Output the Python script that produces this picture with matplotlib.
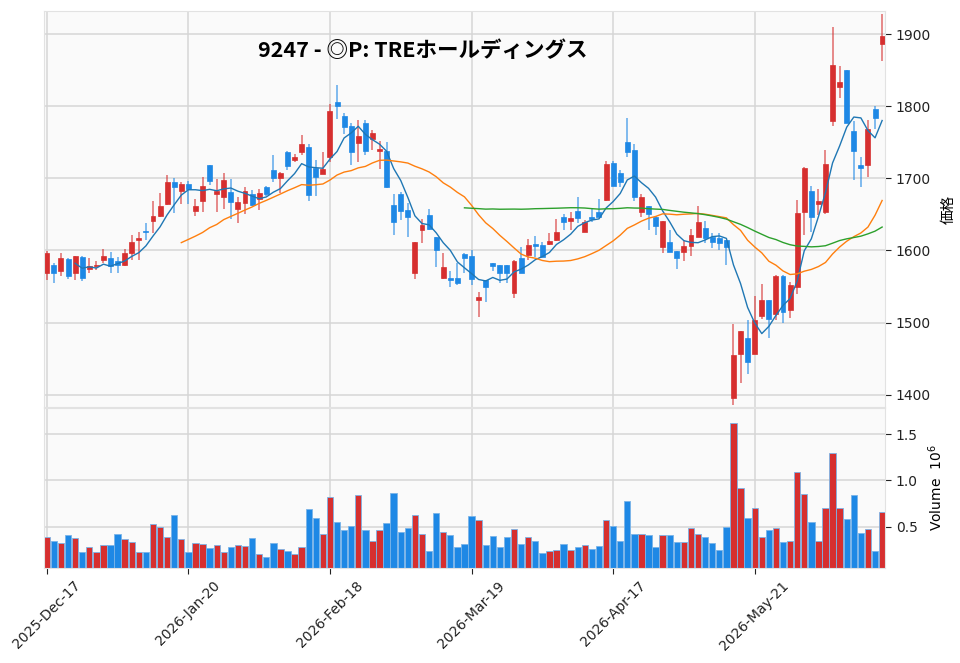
import numpy as np
import pandas as pd
import matplotlib
matplotlib.use('Agg')
import matplotlib.pyplot as plt
from matplotlib.ticker import MultipleLocator

plt.rcParams['font.family'] = ['DejaVu Sans', 'Noto Sans CJK JP']

title = '9247 - ◎P: TREホールディングス'

# 東証の休場日
holidays = ['2025-12-31', '2026-01-01', '2026-01-02', '2026-01-12', '2026-02-11',
            '2026-02-23', '2026-03-20', '2026-04-29', '2026-05-04', '2026-05-05',
            '2026-05-06']
dates = pd.bdate_range('2025-12-17', '2026-06-16', freq='C', holidays=holidays)

opens = [1569, 1580, 1571, 1588, 1569, 1591, 1574, 1578, 1587, 1590,
         1586, 1580, 1597, 1615, 1627, 1641, 1648, 1664, 1695, 1683,
         1692, 1655, 1669, 1718, 1678, 1674, 1681, 1657, 1666, 1678,
         1672, 1688, 1711, 1700, 1737, 1725, 1737, 1743, 1715, 1706,
         1730, 1806, 1786, 1773, 1749, 1777, 1754, 1738, 1738, 1663,
         1678, 1656, 1569, 1628, 1649, 1619, 1562, 1561, 1562, 1595,
         1592, 1531, 1559, 1582, 1580, 1580, 1541, 1589, 1594, 1608,
         1608, 1609, 1615, 1646, 1641, 1655, 1626, 1646, 1654, 1670,
         1721, 1707, 1750, 1740, 1654, 1661, 1646, 1605, 1612, 1599,
         1598, 1606, 1619, 1631, 1619, 1617, 1615, 1395, 1457, 1478,
         1457, 1509, 1532, 1512, 1564, 1518, 1549, 1653, 1682, 1665,
         1653, 1780, 1826, 1850, 1766, 1719, 1719, 1796, 1886]
highs = [1599, 1583, 1596, 1589, 1593, 1593, 1589, 1586, 1602, 1598,
         1591, 1602, 1622, 1626, 1638, 1668, 1680, 1705, 1700, 1695,
         1696, 1672, 1702, 1718, 1699, 1707, 1699, 1674, 1688, 1684,
         1685, 1690, 1732, 1709, 1738, 1734, 1760, 1747, 1726, 1737,
         1803, 1829, 1790, 1777, 1781, 1781, 1767, 1752, 1751, 1679,
         1681, 1666, 1612, 1643, 1657, 1619, 1596, 1572, 1582, 1597,
         1600, 1543, 1559, 1583, 1580, 1580, 1587, 1605, 1616, 1620,
         1612, 1624, 1643, 1651, 1654, 1674, 1642, 1657, 1671, 1724,
         1724, 1712, 1783, 1748, 1678, 1661, 1648, 1641, 1628, 1599,
         1614, 1630, 1661, 1641, 1624, 1624, 1615, 1498, 1488, 1504,
         1537, 1554, 1532, 1566, 1566, 1557, 1670, 1716, 1690, 1685,
         1740, 1910, 1856, 1850, 1779, 1730, 1781, 1800, 1928]
lows = [1559, 1555, 1565, 1560, 1559, 1558, 1569, 1573, 1582, 1569,
        1569, 1579, 1587, 1587, 1615, 1624, 1647, 1663, 1652, 1665,
        1665, 1648, 1654, 1691, 1654, 1657, 1644, 1638, 1651, 1662,
        1656, 1676, 1695, 1680, 1711, 1723, 1732, 1669, 1675, 1706,
        1722, 1782, 1762, 1719, 1723, 1733, 1739, 1713, 1687, 1622,
        1642, 1619, 1560, 1610, 1629, 1577, 1561, 1550, 1552, 1569,
        1552, 1508, 1528, 1572, 1555, 1555, 1534, 1569, 1587, 1591,
        1591, 1608, 1613, 1629, 1629, 1638, 1626, 1640, 1647, 1669,
        1689, 1688, 1730, 1668, 1646, 1628, 1622, 1597, 1598, 1575,
        1586, 1592, 1619, 1610, 1603, 1600, 1580, 1386, 1416, 1429,
        1457, 1505, 1478, 1503, 1499, 1506, 1540, 1622, 1625, 1649,
        1651, 1773, 1812, 1777, 1698, 1688, 1702, 1769, 1863]
closes = [1596, 1569, 1589, 1565, 1592, 1562, 1579, 1580, 1592, 1578,
          1580, 1597, 1612, 1618, 1625, 1648, 1661, 1695, 1688, 1692,
          1685, 1661, 1689, 1697, 1682, 1698, 1667, 1667, 1682, 1663,
          1680, 1679, 1700, 1707, 1717, 1730, 1748, 1677, 1702, 1713,
          1794, 1800, 1771, 1737, 1759, 1738, 1763, 1740, 1688, 1639,
          1655, 1646, 1612, 1635, 1630, 1600, 1577, 1559, 1555, 1589,
          1560, 1536, 1549, 1579, 1569, 1569, 1585, 1569, 1607, 1606,
          1591, 1613, 1625, 1639, 1645, 1645, 1639, 1643, 1647, 1720,
          1690, 1695, 1737, 1674, 1674, 1651, 1634, 1641, 1598, 1589,
          1606, 1622, 1639, 1617, 1612, 1611, 1605, 1455, 1488, 1446,
          1504, 1531, 1505, 1564, 1515, 1552, 1652, 1715, 1647, 1668,
          1720, 1857, 1833, 1777, 1738, 1714, 1769, 1783, 1897]
volumes = [0.384, 0.340, 0.320, 0.413, 0.377, 0.220, 0.283, 0.225, 0.304, 0.304,
           0.420, 0.366, 0.330, 0.225, 0.225, 0.525, 0.500, 0.388, 0.627, 0.366,
           0.228, 0.322, 0.315, 0.264, 0.304, 0.220, 0.275, 0.304, 0.286, 0.380,
           0.200, 0.170, 0.326, 0.260, 0.235, 0.200, 0.275, 0.690, 0.590, 0.420,
           0.820, 0.554, 0.467, 0.503, 0.840, 0.467, 0.344, 0.464, 0.543, 0.859,
           0.438, 0.486, 0.627, 0.417, 0.235, 0.652, 0.446, 0.406, 0.283, 0.315,
           0.620, 0.573, 0.297, 0.395, 0.283, 0.390, 0.475, 0.312, 0.388, 0.344,
           0.217, 0.232, 0.250, 0.308, 0.250, 0.275, 0.300, 0.254, 0.290, 0.569,
           0.503, 0.340, 0.780, 0.424, 0.420, 0.413, 0.275, 0.413, 0.406, 0.337,
           0.330, 0.489, 0.424, 0.384, 0.322, 0.250, 0.500, 1.623, 0.917, 0.598,
           0.696, 0.384, 0.460, 0.486, 0.333, 0.348, 1.090, 0.851, 0.547, 0.348,
           0.696, 1.293, 0.696, 0.587, 0.844, 0.428, 0.478, 0.232, 0.656]
volumes = [v * 1e6 for v in volumes]

mav = (5, 20, 60)
mav_colors = ['#1f77b4', '#ff7f0e', '#2ca02c']

up_color = '#d62f2f'
down_color = '#1e88e5'

df = pd.DataFrame({'Open': opens, 'High': highs, 'Low': lows,
                   'Close': closes, 'Volume': volumes}, index=dates)
x = np.arange(len(df))
up = df.Close >= df.Open
colors = np.where(up, up_color, down_color)

fig = plt.figure(figsize=(9.6, 6.63), dpi=100)
ax = fig.add_axes([0.0458, 0.3861, 0.8764, 0.5973])
axv = fig.add_axes([0.0458, 0.1433, 0.8764, 0.2413], sharex=ax)

for a in (ax, axv):
    a.set_facecolor('#fafafa')
    a.grid(True, color='#d6d6d6', lw=1.1)
    a.set_axisbelow(True)
    for s in a.spines.values():
        s.set_color('#e2e2e2')
    a.yaxis.tick_right()
    a.yaxis.set_label_position('right')
    a.tick_params(axis='y', labelsize=10, colors='#222222', length=4)

# ローソク足
ax.vlines(x, df.Low, df.High, colors=colors, lw=1.3, alpha=0.6)
body_low = np.minimum(df.Open, df.Close)
body_h = np.maximum((df.Close - df.Open).abs(), 2.5)
ax.bar(x, body_h, 0.7, bottom=body_low, color=colors, edgecolor=colors, lw=0.5)

for n, c in zip(mav, mav_colors):
    ax.plot(x, df.Close.rolling(n).mean(), color=c, lw=1.0)

ax.set_ylim(1383, 1932)
ax.yaxis.set_major_locator(MultipleLocator(100))
ax.set_ylabel('価格', family=['Noto Sans CJK JP', 'DejaVu Sans'], fontsize=10.5, labelpad=8)
ax.tick_params(axis='x', labelbottom=False, length=0)

# 出来高
axv.bar(x, df.Volume, 0.9, color=colors, edgecolor='#7ab4e8', lw=0.6)
axv.set_ylim(0.3 * df.Volume.min(), 1.1 * df.Volume.max())
vt = [0.5e6, 1.0e6, 1.5e6]
axv.set_yticks(vt)
axv.set_yticklabels([f'{v / 1e6:.1f}' for v in vt])
axv.set_ylabel('Volume  $10^{6}$', fontsize=10, labelpad=6)

ticks = x[::20]
axv.set_xticks(ticks)
axv.set_xticklabels([dates[i].strftime('%Y-%b-%d') for i in ticks],
                    rotation=45, ha='center', fontsize=10)
axv.tick_params(axis='x', length=4, colors='#222222')
ax.set_xlim(-0.4, 118.45)

fig.text(0.44, 0.924, title, ha='center', va='center', fontsize=15.5,
         fontweight='bold', family=['Noto Sans CJK JP', 'DejaVu Sans'])

fig.savefig('out.png', dpi=100, facecolor='white')
